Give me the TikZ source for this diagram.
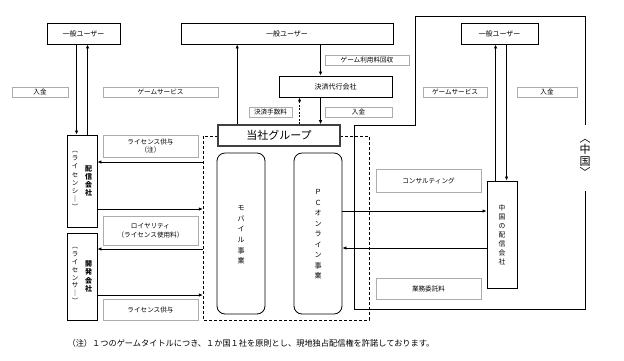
\documentclass[tikz,border=0pt]{standalone}
\usepackage{fontspec}
\setmainfont{Noto Sans CJK JP}
\usetikzlibrary{arrows.meta}
\begin{document}
\begin{tikzpicture}[x=1pt,y=-1pt,
  box/.style={draw,line width=0.9pt,inner sep=0pt,font=\fontsize{7}{8}\selectfont},
  lbl/.style={draw=gray!65,line width=0.6pt,fill=white,inner sep=0pt,align=center,font=\fontsize{6.6}{8.4}\selectfont},
  rbox/.style={draw,line width=0.8pt,rounded corners=8pt,inner sep=0pt},
  vt/.style={inner sep=0pt,align=center},
  arr/.style={-{Latex[length=4pt,width=3.4pt]},line width=0.7pt},
  ln/.style={line width=0.7pt},
  dsh/.style={line width=0.9pt,dash pattern=on 3pt off 2pt}]
\useasboundingbox (0,0) rectangle (624,360);

% China region outline
\draw[line width=0.9pt] (354,309) -- (354,125) -- (415,125) -- (415,16) -- (585,16) -- (585,309) -- cycle;
\node[fill=white,inner xsep=1.5pt,inner ysep=0pt,minimum height=66pt,align=center,font=\fontsize{11}{11.5}\selectfont] (china) at (585,158) {︿\\中\\国\\﹀};

% dashed group area
\draw[dsh] (203,136) rectangle (369,320);
\node[inner sep=0pt,minimum width=166pt,minimum height=184pt] (dashbox) at (286,228) {};

% users
\node[box,minimum width=73pt,minimum height=21pt] (userL) at (83.5,33.5) {一般ユーザー};
\node[box,minimum width=212pt,minimum height=21pt] (userM) at (287,33.5) {一般ユーザー};
\node[box,minimum width=77pt,minimum height=21pt] (userR) at (499.5,33.5) {一般ユーザー};

% top labels
\node[lbl,minimum width=56pt,minimum height=10pt] (lNyL) at (40,92) {入金};
\node[lbl,minimum width=115pt,minimum height=10pt] (lGameL) at (160.5,92) {ゲームサービス};
\node[lbl,minimum width=64pt,minimum height=10pt] (lGameR) at (455,92) {ゲームサービス};
\node[lbl,minimum width=60pt,minimum height=10pt] (lNyR) at (547,92) {入金};
\node[lbl,minimum width=84pt,minimum height=10pt] (lRiyo) at (367,60.5) {ゲーム利用料回収};
\node[lbl,minimum width=43pt,minimum height=10pt] (lTes) at (270.5,112) {決済手数料};
\node[lbl,minimum width=67pt,minimum height=10pt] (lNyM) at (358.5,112) {入金};

% settlement company & group
\node[box,minimum width=113pt,minimum height=21pt] (kessai) at (335.5,86.5) {決済代行会社};
\node[draw=black!75,line width=1.6pt,inner sep=0pt,minimum width=122pt,minimum height=21pt,fill=white,font=\fontsize{11}{12}\selectfont] (group) at (279,135.5) {当社グループ};

% licensee / licensor
\node[box,minimum width=30pt,minimum height=92pt] (haishin) at (82,181) {};
\node[vt,font=\fontsize{6.5}{8.1}\selectfont] (haishinA) at (75,180.5) {︵\\ラ\\イ\\セ\\ン\\シ\\｜\\︶};
\node[vt,font=\bfseries\fontsize{7}{8.2}\selectfont] (haishinB) at (88.5,181) {配\\信\\会\\社};
\node[box,minimum width=30pt,minimum height=87pt] (kaihatsu) at (82,276.5) {};
\node[vt,font=\fontsize{6.5}{7.9}\selectfont] (kaihatsuA) at (75,275.5) {︵\\ラ\\イ\\セ\\ン\\サ\\｜\\︶};
\node[vt,font=\bfseries\fontsize{7}{8.2}\selectfont] (kaihatsuB) at (88.5,276.5) {開\\発\\会\\社};

% left labels
\node[lbl,minimum width=95pt,minimum height=22pt] (lLic1) at (150.5,146) {ライセンス供与\\（注）};
\node[lbl,minimum width=95pt,minimum height=29pt] (lRoy) at (150.5,230.5) {ロイヤリティ\\（ライセンス使用料）};
\node[lbl,minimum width=95pt,minimum height=21pt] (lLic2) at (150.5,309.5) {ライセンス供与};

% businesses
\node[rbox,minimum width=48pt,minimum height=161pt] (mobile) at (241,233.5) {};
\node[vt,font=\fontsize{7}{10.7}\selectfont] (mobileT) at (241,235) {モ\\バ\\イ\\ル\\事\\業};
\node[rbox,minimum width=48pt,minimum height=161pt] (pc) at (318,233.5) {};
\node[vt,font=\fontsize{7}{10.5}\selectfont] (pcT) at (318,234.5) {Ｐ\\Ｃ\\オ\\ン\\ラ\\イ\\ン\\事\\業};

% China distributor
\node[box,minimum width=30pt,minimum height=107pt] (cn) at (502,234.5) {};
\node[vt,font=\fontsize{6.8}{9.1}\selectfont] (cnT) at (502,235) {中\\国\\の\\配\\信\\会\\社};
\node[lbl,minimum width=105pt,minimum height=23pt] (lCons) at (428.5,180.5) {コンサルティング};
\node[lbl,minimum width=105pt,minimum height=21pt] (lGyo) at (428.5,288.5) {業務委託料};

% footnote
\node[inner sep=0pt,font=\fontsize{8.2}{9.5}\selectfont] (note) at (251,343) {（注）１つのゲームタイトルにつき、１か国１社を原則とし、現地独占配信権を許諾しております。};

% connectors: left users
\coordinate (uL1) at ([xshift=30pt]userL.south west);
\coordinate (uL2) at ([xshift=41pt]userL.south west);
\draw[arr] (uL1) -- (uL1 |- haishin.north);
\draw[arr] (uL2 |- haishin.north) -- (uL2);

% middle users
\coordinate (g1) at ([xshift=20pt]group.north west);
\draw[arr] (g1) -- (g1 |- userM.south);
\coordinate (k1) at ([xshift=42pt]kessai.north west);
\draw[arr] (k1 |- userM.south) -- (k1);
\draw[arr] (k1 |- kessai.south) -- (k1 |- group.north);
\coordinate (k2) at ([xshift=21pt]kessai.south west);
\draw[arr,dash pattern=on 2pt off 1.5pt] (k2 |- group.north) -- (k2);

% right users
\coordinate (uR1) at ([xshift=35pt]userR.south west);
\coordinate (uR2) at ([xshift=46pt]userR.south west);
\draw[arr] (uR1 |- cn.north) -- (uR1);
\draw[arr] (uR2) -- (uR2 |- cn.north);

% left flows
\coordinate (h1) at ([yshift=19pt]haishin.east);
\coordinate (h2) at ([yshift=-28pt]haishin.east);
\coordinate (d1) at ([yshift=27.5pt]kaihatsu.east);
\coordinate (d2) at ([yshift=-18.5pt]kaihatsu.east);
\draw[arr] (dashbox.west |- h1) -- (h1);
\draw[arr] (h2) -- (dashbox.west |- h2);
\draw[arr] (dashbox.west |- d1) -- (d1);
\draw[arr] (d2) -- (dashbox.west |- d2);

% PC <-> China
\coordinate (p1) at ([yshift=22.5pt]pc.east);
\coordinate (p2) at ([yshift=-14.5pt]pc.east);
\draw[arr] (p1) -- (cn.west |- p1);
\draw[arr] (cn.west |- p2) -- (p2);
\end{tikzpicture}
\end{document}
